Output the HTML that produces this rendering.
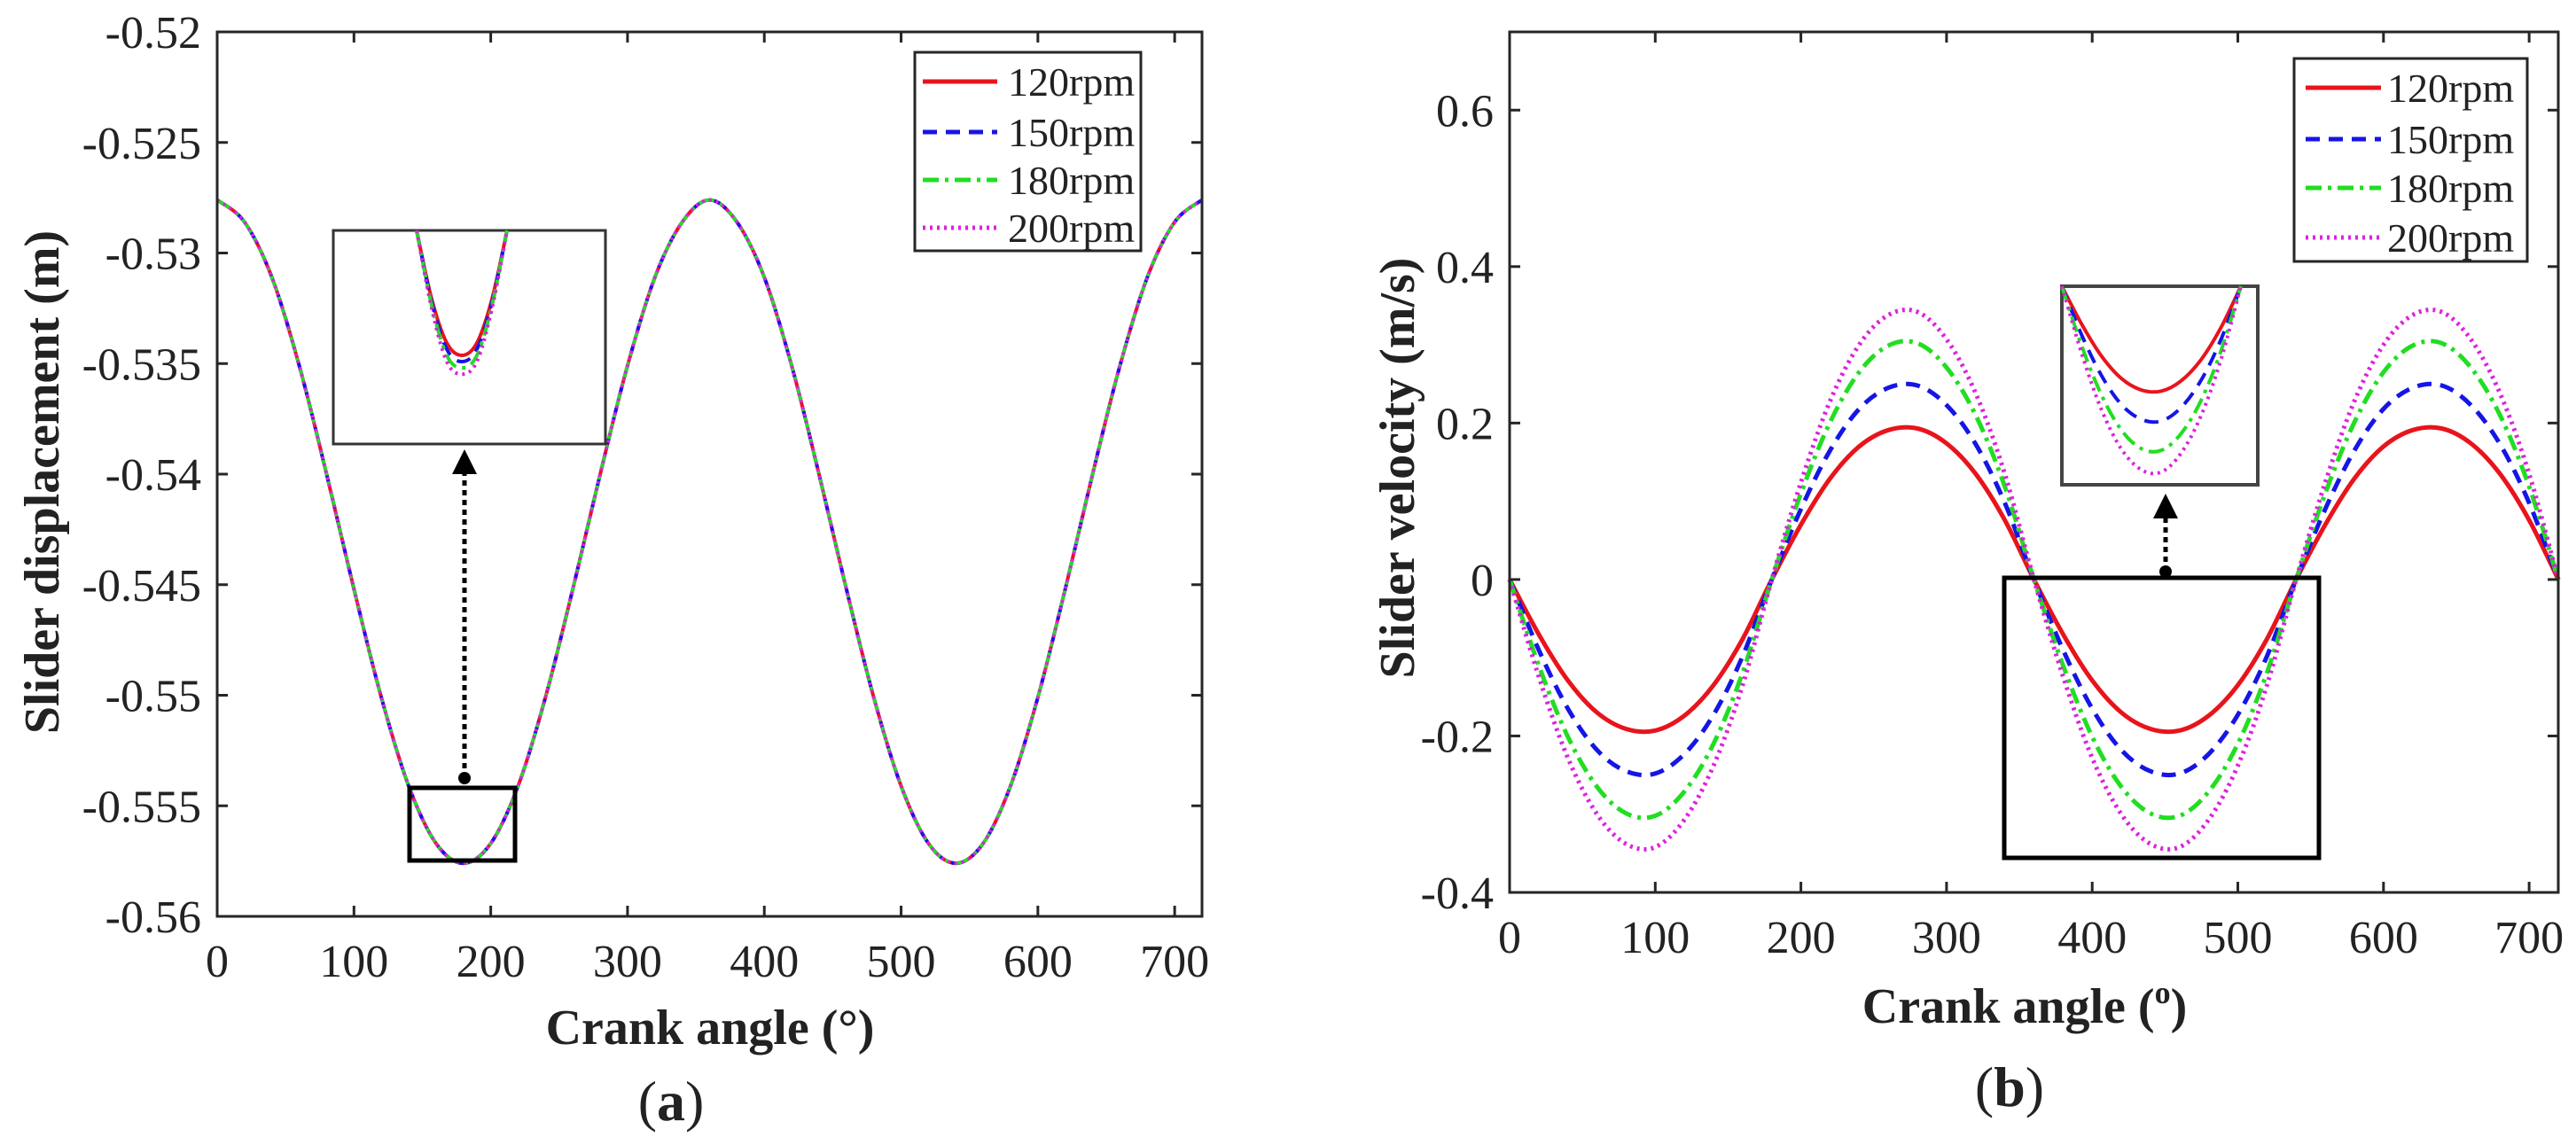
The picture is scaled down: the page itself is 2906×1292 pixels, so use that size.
<!DOCTYPE html>
<html><head><meta charset="utf-8">
<style>
html,body{margin:0;padding:0;background:#fff;}
svg{display:block;}
text{font-family:"Liberation Serif","DejaVu Serif",serif;fill:#222;}
.tick{font-size:52px;}
.title{font-size:56px;font-weight:bold;}
.leg{font-size:46px;}
</style></head>
<body>
<svg id="fig" width="2906" height="1292" viewBox="0 0 2906 1292" xmlns="http://www.w3.org/2000/svg" font-family="Liberation Serif, serif">
<g id="pa"></g>
<g id="pb"></g>
</svg>
<script>
// ---- Data ----
const angles = [0,20,40,60,80,100,120,140,160,180,200,220,240,260,280,300,320,340,360,380,400,420,440,460,480,500,520,540,560,580,600,620,640,660,680,700,720];
const disp = [-0.5276,-0.5286,-0.5311,-0.5351,-0.5400,-0.5452,-0.5501,-0.5541,-0.5567,-0.5576,-0.5567,-0.5541,-0.5501,-0.5452,-0.5400,-0.5351,-0.5311,-0.5286,-0.5276,-0.5286,-0.5311,-0.5351,-0.5400,-0.5452,-0.5501,-0.5541,-0.5567,-0.5576,-0.5567,-0.5541,-0.5501,-0.5452,-0.5400,-0.5351,-0.5311,-0.5286,-0.5276];
const insetAngles = [150,160,170,180,190,200,210];
const insetDisp120 = [-0.5536,-0.5558,-0.5572,-0.5576,-0.5572,-0.5558,-0.5536];
const insetDisp150 = [-0.5536,-0.5559,-0.5574,-0.5578,-0.5574,-0.5559,-0.5536];
const insetDisp180 = [-0.5536,-0.5560,-0.5576,-0.5580,-0.5576,-0.5560,-0.5536];
const insetDisp200 = [-0.5536,-0.5561,-0.5578,-0.5582,-0.5578,-0.5561,-0.5536];
const vel120 = [0,-0.070,-0.129,-0.170,-0.191,-0.193,-0.174,-0.135,-0.076,0,0.070,0.129,0.170,0.191,0.193,0.174,0.135,0.076,0,-0.070,-0.129,-0.170,-0.191,-0.193,-0.174,-0.135,-0.076,0,0.070,0.129,0.170,0.191,0.193,0.174,0.135,0.076,0];
const vel150 = [0,-0.090,-0.165,-0.218,-0.245,-0.248,-0.223,-0.173,-0.098,0,0.090,0.165,0.218,0.245,0.248,0.223,0.173,0.098,0,-0.090,-0.165,-0.218,-0.245,-0.248,-0.223,-0.173,-0.098,0,0.090,0.165,0.218,0.245,0.248,0.223,0.173,0.098,0];
const vel180 = [0,-0.110,-0.201,-0.265,-0.299,-0.302,-0.271,-0.210,-0.119,0,0.110,0.201,0.265,0.299,0.302,0.271,0.210,0.119,0,-0.110,-0.201,-0.265,-0.299,-0.302,-0.271,-0.210,-0.119,0,0.110,0.201,0.265,0.299,0.302,0.271,0.210,0.119,0];
const vel200 = [0,-0.124,-0.228,-0.300,-0.338,-0.342,-0.307,-0.238,-0.135,0,0.124,0.228,0.300,0.338,0.342,0.307,0.238,0.135,0,-0.124,-0.228,-0.300,-0.338,-0.342,-0.307,-0.238,-0.135,0,0.124,0.228,0.300,0.338,0.342,0.307,0.238,0.135,0];
const xTicks = [0,100,200,300,400,500,600,700];
const dispTicks = [-0.52,-0.525,-0.53,-0.535,-0.54,-0.545,-0.55,-0.555,-0.56];
const dispTickLabels = ["-0.52","-0.525","-0.53","-0.535","-0.54","-0.545","-0.55","-0.555","-0.56"];
const velTicks = [0.6,0.4,0.2,0,-0.2,-0.4];
const velTickLabels = ["0.6","0.4","0.2","0","-0.2","-0.4"];
const seriesNames = ["120rpm","150rpm","180rpm","200rpm"];

const NS="http://www.w3.org/2000/svg";
const FF='"Liberation Serif", "DejaVu Serif", serif';
const styles=[
 {c:"#e8141c",d:"",w:5},
 {c:"#1515e6",d:"16,10",w:5},
 {c:"#22dd22",d:"18,7,4,7",w:5},
 {c:"#dd22dd",d:"3,5",w:5}];
function mk(p,tag,at){const e=document.createElementNS(NS,tag);for(const k in at)e.setAttribute(k,at[k]);if(tag==="text")e.style.fontFamily=FF;p.appendChild(e);return e;}
function smooth(pts){let d="M"+pts[0][0].toFixed(1)+","+pts[0][1].toFixed(1);
 for(let i=0;i<pts.length-1;i++){const p0=pts[Math.max(0,i-1)],p1=pts[i],p2=pts[i+1],p3=pts[Math.min(pts.length-1,i+2)];
 const c1=[p1[0]+(p2[0]-p0[0])/6,p1[1]+(p2[1]-p0[1])/6],c2=[p2[0]-(p3[0]-p1[0])/6,p2[1]-(p3[1]-p1[1])/6];
 d+=" C"+c1[0].toFixed(1)+","+c1[1].toFixed(1)+" "+c2[0].toFixed(1)+","+c2[1].toFixed(1)+" "+p2[0].toFixed(1)+","+p2[1].toFixed(1);}
 return d;}
function series(g,xs,ys,sx,sy,st,name,w){const p=mk(g,"path",{d:smooth(xs.map((x,i)=>[sx(x),sy(ys[i])])),fill:"none",stroke:st.c,"stroke-width":w||st.w,"stroke-dasharray":st.d});
 
 return p;}
function axesFrame(g,L,T,R,B,sx,sy,yt,ytl,name){
 const f=mk(g,"rect",{x:L,y:T,width:R-L,height:B-T,fill:"none",stroke:"#262626","stroke-width":3});
 
 
 xTicks.forEach(v=>{const x=sx(v);
  mk(g,"line",{x1:x,y1:B,x2:x,y2:B-12,stroke:"#262626","stroke-width":3});
  mk(g,"line",{x1:x,y1:T,x2:x,y2:T+12,stroke:"#262626","stroke-width":3});
  const t=mk(g,"text",{x:x,y:B+68,"text-anchor":"middle",class:"tick"});t.textContent=v;
  
  });
 yt.forEach((v,i)=>{const y=sy(v);
  mk(g,"line",{x1:L,y1:y,x2:L+12,y2:y,stroke:"#262626","stroke-width":3});
  mk(g,"line",{x1:R,y1:y,x2:R-12,y2:y,stroke:"#262626","stroke-width":3});
  const t=mk(g,"text",{x:L-18,y:y+18,"text-anchor":"end",class:"tick"});t.textContent=ytl[i];
  
  });
}
function legend(g,x,y,w,h,rows,lx1,lx2,tx){
 const lg=mk(g,"g",{});
 
 
 mk(lg,"rect",{x:x,y:y,width:w,height:h,fill:"#fff",stroke:"#262626","stroke-width":3});
 rows.forEach((ry,i)=>{const e=mk(lg,"g",{});
  
  
  mk(e,"line",{x1:lx1,y1:ry,x2:lx2,y2:ry,stroke:styles[i].c,"stroke-width":5,"stroke-dasharray":styles[i].d});
  const t=mk(e,"text",{x:tx,y:ry+16,class:"leg"});t.textContent=seriesNames[i];});
}
function arrow(g,x,y1,y2,name){const a=mk(g,"g",{});
 
 
 mk(a,"circle",{cx:x,cy:y1,r:7,fill:"#000"});
 mk(a,"line",{x1:x,y1:y1,x2:x,y2:y2+26,stroke:"#000","stroke-width":5,"stroke-dasharray":"6,5"});
 mk(a,"path",{d:`M${x},${y2} L${x-14},${y2+28} L${x+14},${y2+28} Z`,fill:"#000"});}
function panelLabel(g,x,y,letter,name){
 const t=mk(g,"text",{x:x,y:y,"text-anchor":"middle",style:"font-size:64px"});
 const a=mk(t,"tspan",{});a.textContent="(";
 const b=mk(t,"tspan",{"font-weight":"bold"});b.textContent=letter;
 const c=mk(t,"tspan",{});c.textContent=")";
 
 }

// ---- Panel (a) ----
(function(){
 const g=document.getElementById('pa');
 const L=245,R=1356,T=36,B=1034;
 const sx=v=>L+(v-0)/720*(R-L);
 const sy=v=>T+(-0.52-v)/0.04*(B-T);
 const dg=mk(g,"g",{});
 [0,1,2,3].forEach(i=>series(dg,angles,disp,sx,sy,styles[i],'displacement-'+seriesNames[i],4));
 axesFrame(g,L,T,R,B,sx,sy,dispTicks,dispTickLabels,'displacement');
 const zb=mk(g,"rect",{x:462,y:889,width:119,height:82,fill:"none",stroke:"#000","stroke-width":5});
 
 
 arrow(g,524,878,507,'zoom-arrow');
 const ib=mk(g,"rect",{x:376,y:260,width:307,height:241,fill:"#fff",stroke:"#333","stroke-width":3});
 
 
 const isx=v=>470+(v-150)/60*102, isy=v=>260+(-0.5536-v)*35250;
 const ins=[insetDisp120,insetDisp150,insetDisp180,insetDisp200];
 ins.forEach((arr,i)=>series(g,insetAngles,arr,isx,isy,styles[i],'inset-displacement-'+seriesNames[i],4));
 legend(g,1032,59,255,224,[92,149,203,257],1041,1125,1137);
 let t=mk(g,"text",{x:801,y:1178,"text-anchor":"middle",class:"title"});t.textContent="Crank angle (°)";
 
 
 t=mk(g,"text",{x:0,y:0,"text-anchor":"middle",class:"title",transform:"translate(66,544) rotate(-90)"});t.textContent="Slider displacement (m)";
 
 
 panelLabel(g,757,1264,"a",'panel-label-a');
})();

// ---- Panel (b) ----
(function(){
 const g=document.getElementById('pb');
 const L=1703,R=2886,T=36,B=1007;
 const sx=v=>L+v/720*(R-L);
 const sy=v=>T+(0.7-v)/1.1*(B-T);
 const vs=[vel120,vel150,vel180,vel200];
 vs.forEach((arr,i)=>series(g,angles,arr,sx,sy,styles[i],'velocity-'+seriesNames[i]));
 axesFrame(g,L,T,R,B,sx,sy,velTicks,velTickLabels,'velocity');
 const zb=mk(g,"rect",{x:2261,y:652,width:355,height:316,fill:"none",stroke:"#000","stroke-width":5});
 
 
 arrow(g,2443,645,557,'zoom-arrow');
 const ib=mk(g,"rect",{x:2326,y:323,width:221,height:224,fill:"#fff",stroke:"#444","stroke-width":4});
 
 
 const ia=angles.slice(18,28);
 const isx=v=>2326+(v-360)*1.122, isy=v=>323-v*613;
 vs.forEach((arr,i)=>series(g,ia,arr.slice(18,28),isx,isy,styles[i],'inset-velocity-'+seriesNames[i],4));
 legend(g,2588,66,263,229,[99,157,212,268],2601,2686,2693);
 let t=mk(g,"text",{x:2284,y:1154,"text-anchor":"middle",class:"title"});t.textContent="Crank angle (";
 const s=mk(t,"tspan",{dy:-22,style:"font-size:36px"});s.textContent="o";
 const s2=mk(t,"tspan",{dy:22});s2.textContent=")";
 
 
 t=mk(g,"text",{x:0,y:0,"text-anchor":"middle",class:"title",transform:"translate(1595,528) rotate(-90)"});t.textContent="Slider velocity (m/s)";
 
 
 panelLabel(g,2267,1248,"b",'panel-label-b');
})();
</script>
</body></html>
